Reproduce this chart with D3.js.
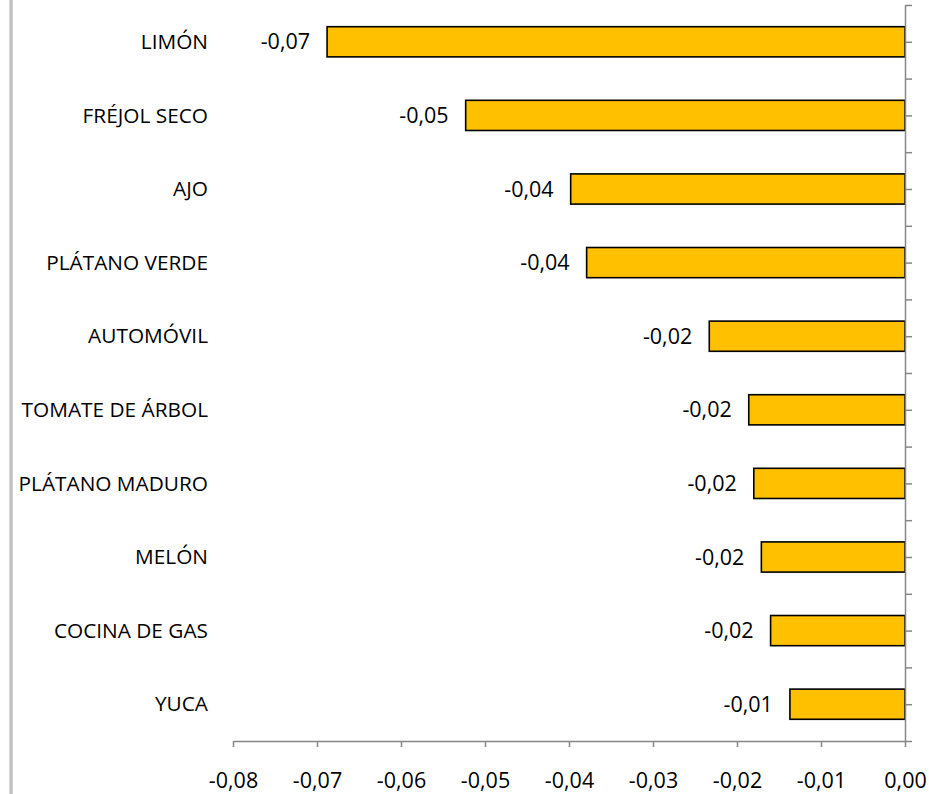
<!DOCTYPE html>
<html>
<head>
<meta charset="utf-8">
<script src="https://cdn.jsdelivr.net/npm/d3@7"></script>
<style>
  html, body { margin: 0; padding: 0; background: #ffffff; }
  svg { display: block; }
  text { font-family: "Open Sans", "Noto Sans", sans-serif; fill: #000; }
</style>
</head>
<body>
<svg id="chart" width="929" height="794"></svg>
<script>
const categories = ["LIMÓN", "FRÉJOL SECO", "AJO", "PLÁTANO VERDE", "AUTOMÓVIL",
  "TOMATE DE ÁRBOL", "PLÁTANO MADURO", "MELÓN", "COCINA DE GAS", "YUCA"];
const values = [-0.0688, -0.0523, -0.0398, -0.0379, -0.0233,
  -0.0186, -0.0180, -0.0171, -0.0160, -0.0137];
const xTicks = [-0.08, -0.07, -0.06, -0.05, -0.04, -0.03, -0.02, -0.01, 0];

const fmt = v => d3.format(".2f")(v).replace("−", "-").replace(".", ",");
const FONT = "'Open Sans', 'Noto Sans', sans-serif";
const FS_CAT = "20.8px";
const FS_NUM = "21.5px";

const svg = d3.select("#chart");

// left frame edge
const grad = svg.append("defs").append("linearGradient").attr("id", "edge")
  .attr("x1", "0").attr("x2", "1").attr("y1", "0").attr("y2", "0");
grad.append("stop").attr("offset", "0").attr("stop-color", "#e0e0e0");
grad.append("stop").attr("offset", "0.5").attr("stop-color", "#b8b8b8");
grad.append("stop").attr("offset", "1").attr("stop-color", "#d8d8d8");
svg.append("rect").attr("x", 9).attr("y", 0).attr("width", 4).attr("height", 794)
  .attr("fill", "url(#edge)");

const x = d3.scaleLinear().domain([-0.08, 0]).range([233, 905]);
const y = d3.scaleBand().domain(categories).range([5, 741])
  .paddingInner(0.59).paddingOuter(0.295);

// bars
svg.append("g").selectAll("rect").data(values).join("rect")
  .attr("x", d => x(d))
  .attr("y", (d, i) => y(categories[i]))
  .attr("width", d => x(0) - x(d))
  .attr("height", y.bandwidth())
  .attr("fill", "#FFC000")
  .attr("stroke", "#000")
  .attr("stroke-width", 1.6);

// value labels
svg.append("g").selectAll("text").data(values).join("text")
  .attr("x", d => x(d) - 17)
  .attr("y", (d, i) => y(categories[i]) + y.bandwidth() / 2)
  .attr("dy", "0.35em")
  .attr("text-anchor", "end")
  .style("font-family", FONT)
  .style("font-size", FS_NUM)
  .text(d => fmt(d));

// category labels
svg.append("g").selectAll("text").data(categories).join("text")
  .attr("x", 208)
  .attr("y", d => y(d) + y.bandwidth() / 2)
  .attr("dy", "0.35em")
  .attr("text-anchor", "end")
  .style("font-family", FONT)
  .style("font-size", FS_CAT)
  .text(d => d);

// x axis
const xAxis = svg.append("g").attr("transform", "translate(0,741)")
  .call(d3.axisBottom(x).tickValues(xTicks).tickFormat(fmt).tickSize(6).tickSizeOuter(0));
xAxis.select(".domain").attr("stroke", "#868686").attr("stroke-width", 1.5);
xAxis.selectAll(".tick line").attr("stroke", "#868686").attr("stroke-width", 1.5);
xAxis.selectAll(".tick text").attr("y", 39).attr("dy", "0.35em")
  .style("font-size", FS_NUM).style("font-family", FONT).attr("fill", "#000");

// y axis at zero (ticks at band edges and centers)
const yt = d3.scaleLinear().domain([0, 2 * categories.length]).range([5, 741]);
const yAxis = svg.append("g").attr("transform", `translate(${x(0)},0)`)
  .call(d3.axisRight(yt).tickValues(d3.range(0, 2 * categories.length + 1)).tickFormat("").tickSize(7).tickSizeOuter(0));
yAxis.select(".domain").attr("stroke", "#868686").attr("stroke-width", 1.5);
yAxis.selectAll(".tick line").attr("stroke", "#868686").attr("stroke-width", 1.5);
</script>
</body>
</html>
